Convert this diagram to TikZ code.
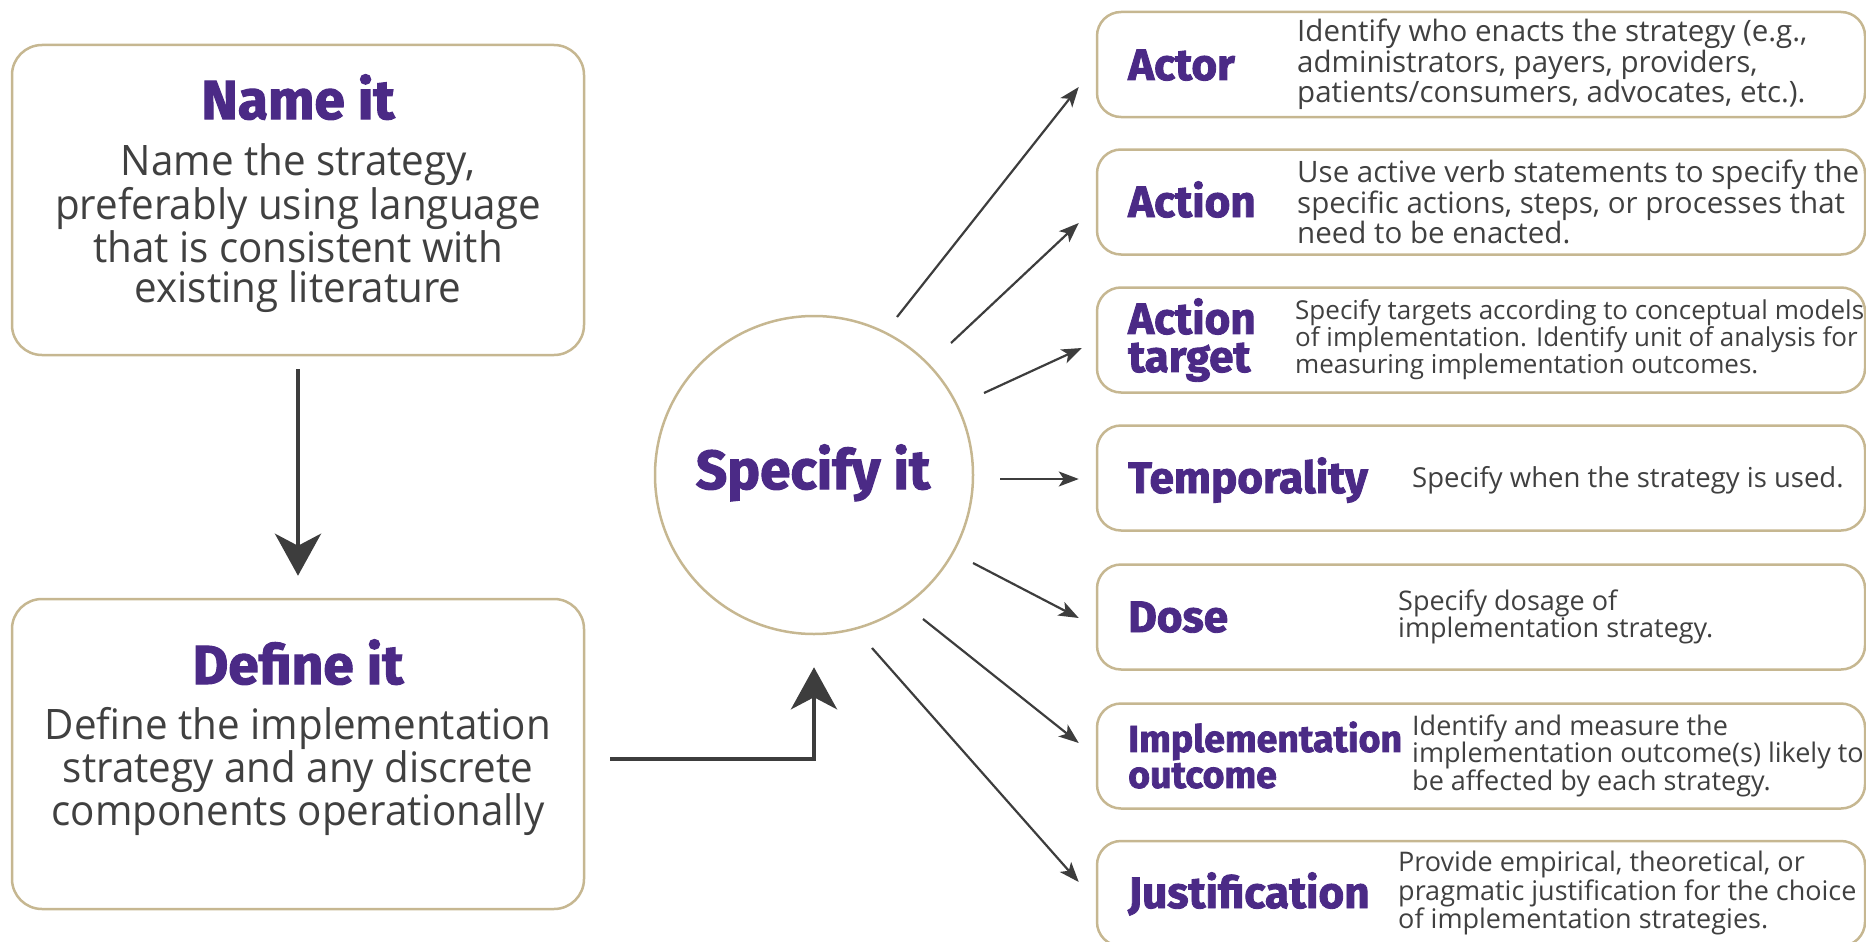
\documentclass[tikz,border=0pt]{standalone}
\usepackage{fontspec}
\usetikzlibrary{arrows.meta,calc}
\setmainfont{Open Sans}
\newfontfamily\bodyfontraw{Open Sans}[FakeStretch=0.96]
\newfontfamily\descfontraw{Open Sans}
\newfontfamily\headfontraw{Fira Sans}[UprightFont={* Bold}, FakeBold=2]
\definecolor{purp}{HTML}{4B2A86}
\definecolor{txt}{HTML}{404040}
\definecolor{gold}{HTML}{C6B791}
\definecolor{arrc}{HTML}{3D3D3D}
\tikzset{
  lbox/.style={draw=gold, line width=2.5pt, rounded corners=30pt, minimum width=572pt, minimum height=310pt, inner sep=0pt},
  rbox/.style={draw=gold, line width=2.5pt, rounded corners=24pt, minimum width=768pt, minimum height=105pt, inner sep=0pt},
  headtxt/.style={text=purp, font=\headfontraw\fontsize{55}{60}\selectfont, inner sep=0pt},
  labtxt/.style={text=purp, font=\headfontraw\fontsize{44}{38}\selectfont, inner sep=0pt, align=left},
  bodytxt/.style={text=txt, font=\bodyfontraw\fontsize{42}{40}\selectfont, align=center, inner sep=0pt},
  desctxt/.style={text=txt, font=\descfontraw\fontsize{29.5}{27}\selectfont, align=left, inner sep=0pt},
  descsm/.style={desctxt, font=\descfontraw\fontsize{27}{27}\selectfont},
  bigarr/.style={draw=arrc, line width=4.5pt, -{Stealth[length=42pt,width=46pt,inset=12pt]}},
  smarr/.style={draw=arrc, line width=2.2pt, -{Stealth[length=20pt,width=15pt,inset=5pt]}}
}
\begin{document}
\begin{tikzpicture}[x=1pt,y=-1pt]
\useasboundingbox (0,0) rectangle (1866,942);
% left boxes
\node[lbox] (name) at (298,200) {};
\node[headtxt, anchor=base] (namehead) at (298,119) {Name it};
\node[bodytxt] (namebody) at (298,228) {Name the strategy,\\preferably using language\\that is consistent with\\existing literature};
\node[lbox] (def) at (298,754) {};
\node[headtxt, anchor=base] (defhead) at (298,684) {Define it};
\node[bodytxt] (defbody) at (298,771) {Define the implementation\\strategy and any discrete\\components operationally};
% circle
\node[draw=gold, line width=2.5pt, circle, minimum size=318pt, inner sep=0pt] (spec) at (814,475) {};
\node[headtxt, anchor=base] (spectxt) at (813,489) {Specify it};
% main arrows
\draw[bigarr] ($(name.south)+(0,13)$) -- ($(def.north)+(0,-22)$);
\draw[bigarr] ($(def.east)+(25,5)$) -| ($(spec.south)+(0,32)$);
% right boxes
\node[rbox] (b1) at (1481,64.5) {};
\node[rbox] (b2) at (1481,202) {};
\node[rbox] (b3) at (1481,340) {};
\node[rbox] (b4) at (1481,478) {};
\node[rbox] (b5) at (1481,617) {};
\node[rbox] (b6) at (1481,756) {};
\node[rbox] (b7) at (1481,893.5) {};
% labels
\node[labtxt, anchor=base west] (l1) at (1128,80) {Actor};
\node[labtxt, anchor=base west] (l2) at (1128,217) {Action};
\node[labtxt, anchor=west] (l3) at (1128,340) {Action\\target};
\node[labtxt, anchor=base west] (l4) at (1128,493) {Temporality};
\node[labtxt, anchor=base west] (l5) at (1128,632) {Dose};
\node[labtxt, anchor=west, font=\headfontraw\fontsize{37.5}{36}\selectfont] (l6) at (1128,755) {Implementation\\outcome};
\node[labtxt, anchor=base west] (l7) at (1128,908) {Justification};
% descriptions
\node[desctxt, anchor=west] (d1) at (1297,64.5) {Identify who enacts the strategy (e.g.,\\administrators, payers, providers,\\patients/consumers, advocates, etc.).};
\node[desctxt, anchor=west] (d2) at (1297,202) {Use active verb statements to specify the\\specific actions, steps, or processes that\\need to be enacted.};
\node[desctxt, anchor=west, font=\descfontraw\fontsize{26}{22.5}\selectfont] (d3) at (1295,340) {Specify targets according to conceptual models\\of implementation. Identify unit of analysis for\\measuring implementation outcomes.};
\node[descsm, anchor=west, font=\descfontraw\fontsize{27.5}{27}\selectfont] (d4) at (1412,480) {Specify when the strategy is used.};
\node[descsm, anchor=west] (d5) at (1398,617) {Specify dosage of\\implementation strategy.};
\node[descsm, anchor=west] (d6) at (1412,756) {Identify and measure the\\implementation outcome(s) likely to\\be affected by each strategy.};
\node[descsm, anchor=west] (d7) at (1398,893) {Provide empirical, theoretical, or\\pragmatic justification for the choice\\of implementation strategies.};
% fan arrows
\coordinate (s1) at (897,317);
\coordinate (s2) at (951,343);
\coordinate (s3) at (984,393);
\coordinate (s4) at (1000,479);
\coordinate (s5) at (973,563);
\coordinate (s6) at (923,619);
\coordinate (s7) at (872,648);
\draw[smarr] (s1) -- ($(b1.west)+(-17,22.5)$);
\draw[smarr] (s2) -- ($(b2.west)+(-17,21)$);
\draw[smarr] (s3) -- ($(b3.west)+(-14,8)$);
\draw[smarr] (s4) -- ($(b4.west)+(-17,1)$);
\draw[smarr] (s5) -- ($(b5.west)+(-17,1)$);
\draw[smarr] (s6) -- ($(b6.west)+(-17,-13)$);
\draw[smarr] (s7) -- ($(b7.west)+(-17,-11.5)$);
\end{tikzpicture}
\end{document}
